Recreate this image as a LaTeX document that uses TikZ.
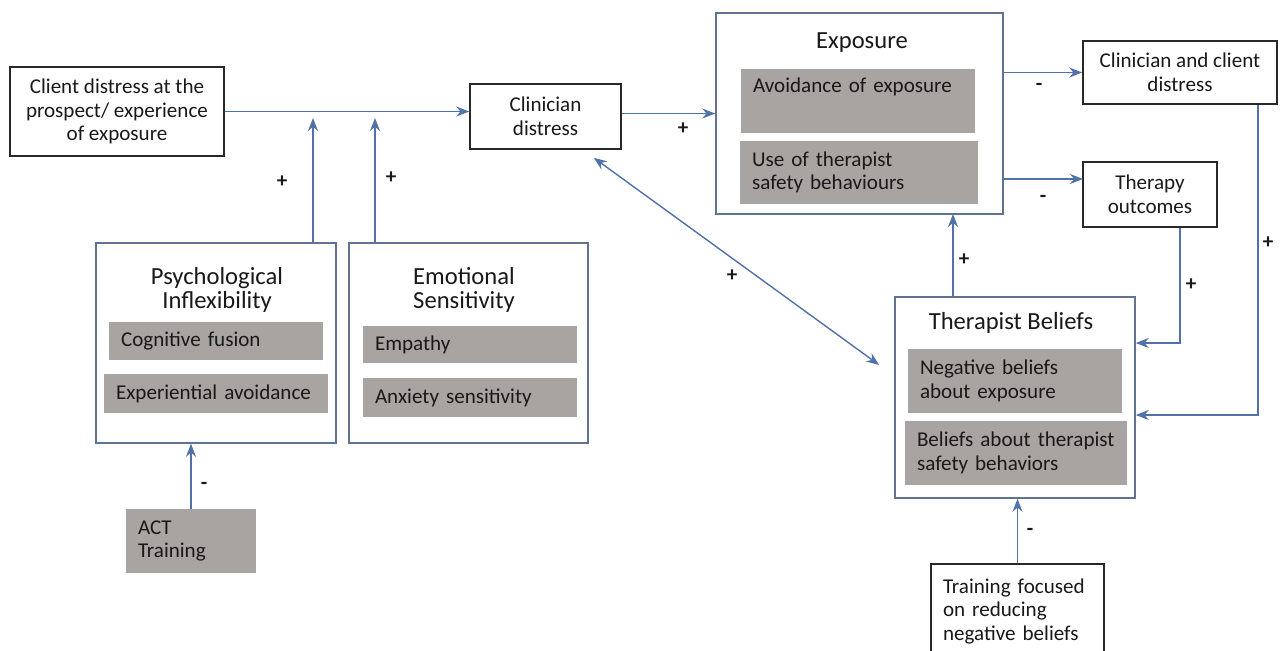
\documentclass[tikz,border=0pt]{standalone}
\usepackage{fontspec}
\setmainfont{Carlito}
\usetikzlibrary{arrows.meta, positioning}
\definecolor{linkblue}{RGB}{80,114,168}
\definecolor{groupblue}{RGB}{96,116,146}
\definecolor{boxblack}{RGB}{40,40,40}
\definecolor{factorgray}{RGB}{167,164,162}
\definecolor{textdark}{RGB}{25,25,25}

\begin{document}
\begin{tikzpicture}[x=0.02cm, y=-0.02cm, >={Stealth[length=2.6mm,width=2mm]},
  txt/.style={font=\fontsize{12}{13.5}\selectfont, text=textdark},
  plainbox/.style={draw=boxblack, line width=0.9pt, align=center, txt},
  groupbox/.style={draw=groupblue, line width=0.9pt, fill=white},
  grouptitle/.style={align=center, font=\fontsize{14}{14}\selectfont, text=textdark},
  factor/.style={fill=factorgray, align=left, inner xsep=0.24cm, txt},
  flow/.style={->, draw=linkblue, line width=0.8pt},
  sign/.style={font=\fontsize{12}{12}\selectfont\bfseries, text=textdark}]
\path[use as bounding box] (0,0) rectangle (1285,650);
\clip (0,0) rectangle (1285,650);

% left part
\node[plainbox, minimum width=4.28cm, minimum height=1.78cm] (client) at (117,111.5) {Client distress at the\\prospect/ experience\\of exposure};
\node[plainbox, minimum width=3.02cm, minimum height=1.3cm] (clinician) at (545.5,116.5) {Clinician\\distress};

\node[groupbox, minimum width=4.8cm, minimum height=4cm] (psych) at (216,343) {};
\node[grouptitle] (psytitle) at (217,290) {Psychological\\Inflexibility};
\node[factor, text width=3.8cm, minimum height=0.76cm] (fusion) at (216,341) {Cognitive fusion};
\node[factor, text width=4.0cm, minimum height=0.78cm] (expavoid) at (216,393.5) {Experiential avoidance};

\node[groupbox, minimum width=4.78cm, minimum height=4cm] (emotion) at (468.5,343) {};
\node[grouptitle] (emotitle) at (464,290) {Emotional\\Sensitivity};
\node[factor, text width=3.8cm, minimum height=0.74cm] (empathy) at (470,344.5) {Empathy};
\node[factor, text width=3.8cm, minimum height=0.78cm] (anxiety) at (470,397.5) {Anxiety sensitivity};

\node[factor, text width=2.12cm, minimum height=1.28cm] (act) at (191,541) {ACT\\Training};

% right part
\node[groupbox, minimum width=5.74cm, minimum height=4.02cm] (exposure) at (859.5,113.5) {};
\node[grouptitle] (exptitle) at (862,43) {Exposure};
\node[factor, text width=4.2cm, minimum height=1.28cm] (avoid) at (858,101) {Avoidance of exposure\\ \strut};
\node[factor, text width=4.28cm, minimum height=1.26cm] (safety) at (859,172.5) {Use of therapist\\safety behaviours};

\node[plainbox, minimum width=3.88cm, minimum height=1.26cm] (clinclient) at (1180,72.5) {Clinician and client\\distress};
\node[plainbox, minimum width=2.68cm, minimum height=1.3cm] (therapy) at (1150,194.5) {Therapy\\outcomes};

\node[groupbox, minimum width=4.8cm, minimum height=4.02cm] (beliefs) at (1015,397.5) {};
\node[grouptitle] (beltitle) at (1011,323) {Therapist Beliefs};
\node[factor, text width=3.8cm, minimum height=1.28cm] (negbel) at (1015,381) {Negative beliefs\\about exposure};
\node[factor, text width=3.96cm, minimum height=1.28cm] (safebel) at (1016,453) {Beliefs about therapist\\safety behaviors};

\node[plainbox, align=left, inner xsep=0.24cm, text width=2.98cm, minimum height=1.9cm, anchor=north] (training) at (1017.5,563) {Training focused\\on reducing\\negative beliefs};

% connectors
\coordinate (psyup) at (313,118);
\coordinate (emoup) at (375,118);
\coordinate (tout) at (1083,179);
\coordinate (belup) at (953,214);
\coordinate (outcorner) at (1180,343);
\coordinate (distcorner) at (1258,415);

\draw[flow] (client.east) -- (client.east -| clinician.west);
\draw[flow] (psych.north -| psyup) -- (psyup);
\draw[flow] (emotion.north -| emoup) -- (emoup);
\draw[flow] (clinician.east |- exposure.west) -- (exposure.west);
\draw[flow] (exposure.east |- clinclient.west) -- (clinclient.west);
\draw[flow] (exposure.east |- tout) -- (tout);
\draw[flow] (beliefs.north -| belup) -- (belup);
\draw[flow] (therapy.south -| outcorner) -- (outcorner) -- (outcorner -| beliefs.east);
\draw[flow] (clinclient.south -| distcorner) -- (distcorner) -- (distcorner -| beliefs.east);
\draw[flow] (training.north) -- (training.north |- beliefs.south);
\draw[flow] (act.north) -- (act.north |- psych.south);
\draw[flow, <->] ([xshift=-0.56cm,yshift=-0.16cm]clinician.south east) -- ([xshift=-0.3cm,yshift=0.65cm]beliefs.west);

% signs
\node[sign] (s1) at (282,182) {+};
\node[sign] (s2) at (391,178) {+};
\node[sign] (s3) at (683,129) {+};
\node[sign] (s4) at (1039,87) {-};
\node[sign] (s5) at (1043,199) {-};
\node[sign] (s6) at (964,260) {+};
\node[sign] (s7) at (1191,285) {+};
\node[sign] (s8) at (1268,243) {+};
\node[sign] (s9) at (732,276) {+};
\node[sign] (s10) at (1030,532) {-};
\node[sign] (s11) at (204,486) {-};

\end{tikzpicture}
\end{document}
